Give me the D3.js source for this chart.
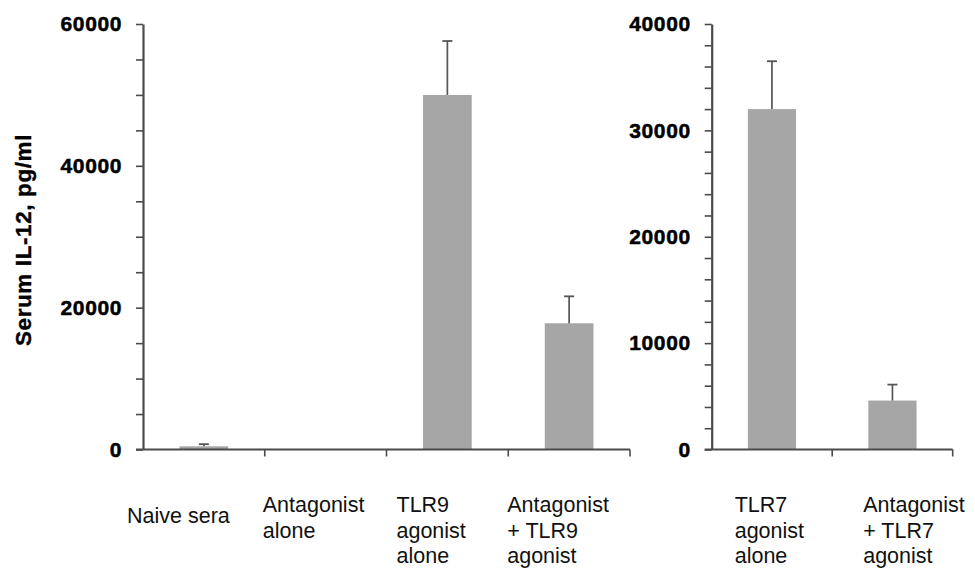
<!DOCTYPE html>
<html>
<head>
<meta charset="utf-8">
<script src="https://cdn.jsdelivr.net/npm/d3@7"></script>
<style>
  html, body { margin: 0; padding: 0; background: #fff; }
  svg { display: block; }
</style>
</head>
<body>
<svg id="chart" width="975" height="570"></svg>
<script>
// Serum IL-12 levels, TLR9 panel (left) and TLR7 panel (right)
const leftCategories = [
  ["Naive sera"],
  ["Antagonist", "alone"],
  ["TLR9", "agonist", "alone"],
  ["Antagonist", "+ TLR9", "agonist"]
];
const leftValues = [450, 60, 50000, 17800];
const leftErrors = [300, 0, 7600, 3800];
const leftTicks = [0, 20000, 40000, 60000];

const rightCategories = [
  ["TLR7", "agonist", "alone"],
  ["Antagonist", "+ TLR7", "agonist"]
];
const rightValues = [32000, 4600];
const rightErrors = [4500, 1500];
const rightTicks = [0, 10000, 20000, 30000, 40000];

const yTitle = "Serum IL-12, pg/ml";

const svg = d3.select("#chart");
const axisColor = "#4a4a4a";
const barColor = "#a6a6a6";
const errColor = "#555555";
const plotTop = 24, plotBase = 449.5;

function panel(opts) {
  const g = svg.append("g");
  const x = d3.scaleBand()
    .domain(d3.range(opts.cats.length))
    .range([opts.x0, opts.x1])
    .paddingInner(0.6)
    .paddingOuter(0.3);
  const y = d3.scaleLinear().domain([0, opts.max]).range([plotBase, plotTop]);

  // bars
  g.selectAll("rect.bar")
    .data(opts.values)
    .join("rect")
    .attr("class", "bar")
    .attr("x", (d, i) => x(i))
    .attr("width", x.bandwidth())
    .attr("y", d => y(d))
    .attr("height", d => y(0) - y(d))
    .attr("fill", barColor);

  // error bars (upper whisker only)
  const errs = opts.values.map((v, i) => ({ i, v, e: opts.errors[i] })).filter(d => d.e > 0);
  const eg = g.selectAll("g.err").data(errs).join("g").attr("class", "err");
  eg.append("line")
    .attr("x1", d => x(d.i) + x.bandwidth() / 2)
    .attr("x2", d => x(d.i) + x.bandwidth() / 2)
    .attr("y1", d => y(d.v))
    .attr("y2", d => y(d.v + d.e))
    .attr("stroke", errColor).attr("stroke-width", 1.7);
  eg.append("line")
    .attr("x1", d => x(d.i) + x.bandwidth() / 2 - 5)
    .attr("x2", d => x(d.i) + x.bandwidth() / 2 + 5)
    .attr("y1", d => y(d.v + d.e))
    .attr("y2", d => y(d.v + d.e))
    .attr("stroke", errColor).attr("stroke-width", 1.8);

  // y axis with minor ticks
  const allTicks = d3.range(0, opts.max + 1, opts.minor);
  const yAxis = d3.axisLeft(y)
    .tickValues(allTicks)
    .tickSize(7)
    .tickSizeOuter(0)
    .tickPadding(14)
    .tickFormat(d => opts.ticks.includes(d) ? d3.format("d")(d) : "");
  const ya = g.append("g")
    .attr("transform", `translate(${opts.x0},0)`)
    .call(yAxis);
  ya.select(".domain").attr("stroke", axisColor).attr("stroke-width", 2.2);
  ya.selectAll(".tick line").attr("stroke", axisColor).attr("stroke-width", 1.6);
  ya.selectAll(".tick text")
    .attr("fill", "#000")
    .attr("stroke", "#000")
    .attr("stroke-width", 0.5)
    .style("font-family", "'Liberation Sans', Arial, sans-serif")
    .style("font-weight", "bold")
    .style("font-size", "21px")
    .style("letter-spacing", "0.6px");

  // x axis baseline with category boundary ticks
  g.append("line")
    .attr("x1", opts.x0 - 7).attr("x2", opts.x1)
    .attr("y1", y(0)).attr("y2", y(0))
    .attr("stroke", axisColor).attr("stroke-width", 2.2);
  const bounds = d3.range(1, opts.cats.length + 1).map(i => opts.x0 + x.step() * i);
  g.selectAll("line.xtick")
    .data(bounds)
    .join("line")
    .attr("class", "xtick")
    .attr("x1", d => d).attr("x2", d => d)
    .attr("y1", y(0)).attr("y2", y(0) + 7)
    .attr("stroke", axisColor).attr("stroke-width", 1.6);

  // category labels
  const lab = g.selectAll("text.cat")
    .data(opts.cats)
    .join("text")
    .attr("class", "cat")
    .attr("x", (d, i) => opts.x0 + x.step() * i + opts.labelDx[i])
    .attr("y", d => d.length === 1 ? 523 : 512)
    .attr("fill", "#111")
    .style("font-family", "'Liberation Sans', Arial, sans-serif")
    .style("font-size", "21.5px");
  lab.selectAll("tspan")
    .data(d => d)
    .join("tspan")
    .attr("x", function () { return d3.select(this.parentNode).attr("x"); })
    .attr("dy", (d, j) => j === 0 ? 0 : 25.5)
    .text(d => d);

  return g;
}

panel({
  cats: leftCategories, values: leftValues, errors: leftErrors,
  ticks: leftTicks, max: 60000, minor: 5000,
  x0: 143, x1: 630,
  labelDx: [-16, -2, 10, -1]
});

panel({
  cats: rightCategories, values: rightValues, errors: rightErrors,
  ticks: rightTicks, max: 40000, minor: 2000,
  x0: 711.7, x1: 952.7,
  labelDx: [23, 31]
});

// y axis title
svg.append("text")
  .attr("transform", "translate(31,240) rotate(-90)")
  .attr("text-anchor", "middle")
  .attr("fill", "#000")
  .attr("stroke", "#000")
  .attr("stroke-width", 0.4)
  .style("font-family", "'Liberation Sans', Arial, sans-serif")
  .style("font-weight", "bold")
  .style("font-size", "22.5px")
  .style("letter-spacing", "0.6px")
  .text(yTitle);
</script>
</body>
</html>
